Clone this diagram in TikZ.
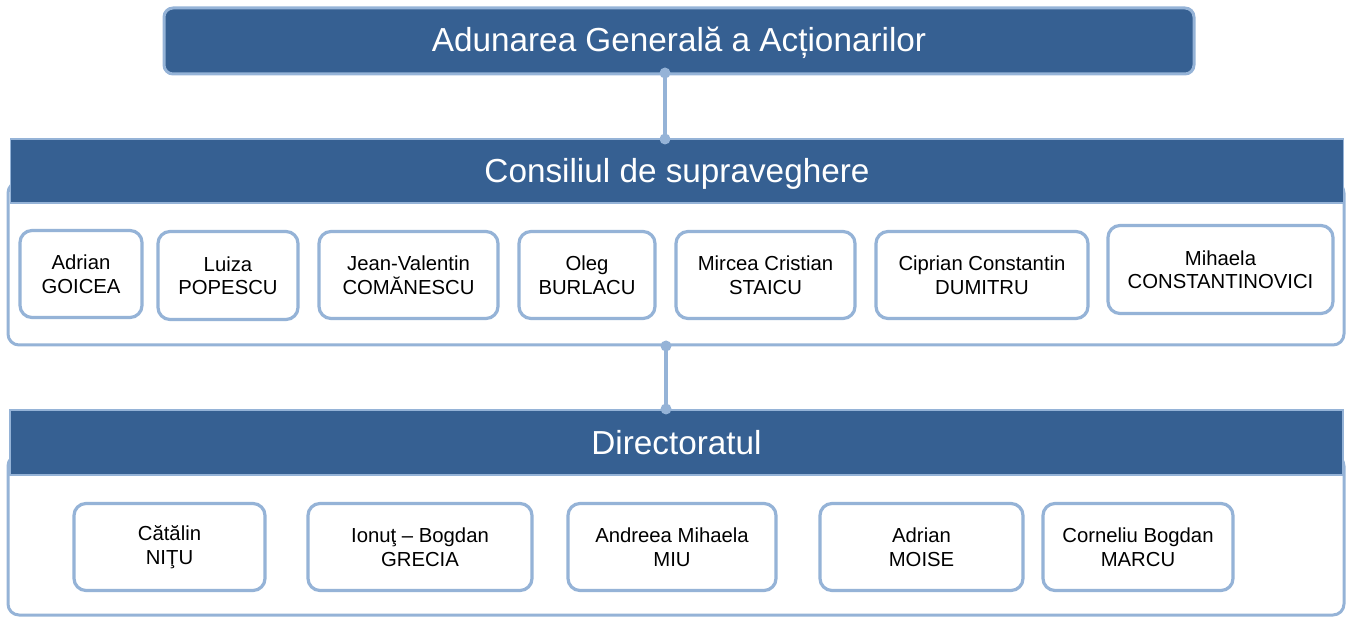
\documentclass[tikz,border=0pt]{standalone}
\usepackage{fontspec}
\setmainfont{Liberation Sans}
\definecolor{hdr}{HTML}{366092}
\definecolor{lb}{HTML}{95B3D7}
\tikzset{
  headbox/.style={draw=lb, fill=hdr, line width=1.8pt, text=white, font=\fontsize{33.3}{38}\selectfont, inner sep=0pt,
    text height=30pt, text depth=6pt},
  topbox/.style={headbox, rounded corners=9pt, line width=3pt, text height=28pt, text depth=6.6pt},
  groupbox/.style={draw=lb, fill=white, line width=3pt, rounded corners=11pt, inner sep=0pt},
  person/.style={draw=lb, fill=white, line width=3.2pt, rounded corners=12pt, align=center, inner sep=0pt,
    font=\fontsize{20.3}{23.5}\selectfont, text=black},
  link/.style={draw=lb, line width=3.5pt},
  dot/.style={fill=lb}
}
\begin{document}
\begin{tikzpicture}[x=1pt,y=-1pt]
\useasboundingbox (0,0) rectangle (1347,617);
% top
\node[topbox, minimum width=1030pt, minimum height=66pt] (ag) at (679,41) {Adunarea Generală a Acționarilor};
% Consiliul group
\node[groupbox, minimum width=1336pt, minimum height=163pt] (cgrp) at (676,263.5) {};
\node[headbox, minimum width=1333pt, minimum height=64pt] (cs) at (677,171) {Consiliul de supraveghere};
% Directoratul group
\node[groupbox, minimum width=1336pt, minimum height=160pt] (dgrp) at (676,535) {};
\node[headbox, minimum width=1333pt, minimum height=65pt] (dir) at (676.5,442.5) {Directoratul};
% connectors
\coordinate (c1a) at (665,73);
\coordinate (c1b) at (665,139);
\coordinate (c2a) at (666,346);
\coordinate (c2b) at (666,409);
\draw[link] (c1a) -- (c1b);
\draw[link] (c2a) -- (c2b);
\fill[dot] (c1a) circle (5.5pt);
\fill[dot] (c1b) circle (5.5pt);
\fill[dot] (c2a) circle (5.5pt);
\fill[dot] (c2b) circle (5.5pt);
% Consiliul members
\node[person, minimum width=122pt, minimum height=87pt] (m1) at (81,274) {Adrian\\GOICEA};
\node[person, minimum width=140pt, minimum height=88pt] (m2) at (228,275.5) {Luiza\\POPESCU};
\node[person, minimum width=179pt, minimum height=87pt] (m3) at (408.5,275) {Jean-Valentin\\COMĂNESCU};
\node[person, minimum width=136pt, minimum height=87pt] (m4) at (587,275) {Oleg\\BURLACU};
\node[person, minimum width=179pt, minimum height=87pt] (m5) at (765.5,275) {Mircea Cristian\\STAICU};
\node[person, minimum width=212pt, minimum height=87pt] (m6) at (982,275) {Ciprian Constantin\\DUMITRU};
\node[person, minimum width=225pt, minimum height=88pt] (m7) at (1220.5,269.5) {Mihaela\\CONSTANTINOVICI};
% Directoratul members
\node[person, minimum width=191pt, minimum height=87pt] (d1) at (169.5,547) {Cătălin\\NIŢU};
\node[person, minimum width=224pt, minimum height=87pt] (d2) at (420,547) {Ionuţ – Bogdan\\GRECIA};
\node[person, minimum width=208pt, minimum height=87pt] (d3) at (672,547) {Andreea Mihaela\\MIU};
\node[person, minimum width=203pt, minimum height=87pt] (d4) at (921.5,547) {Adrian\\MOISE};
\node[person, minimum width=190pt, minimum height=87pt] (d5) at (1138,547) {Corneliu Bogdan\\MARCU};
\end{tikzpicture}
\end{document}
